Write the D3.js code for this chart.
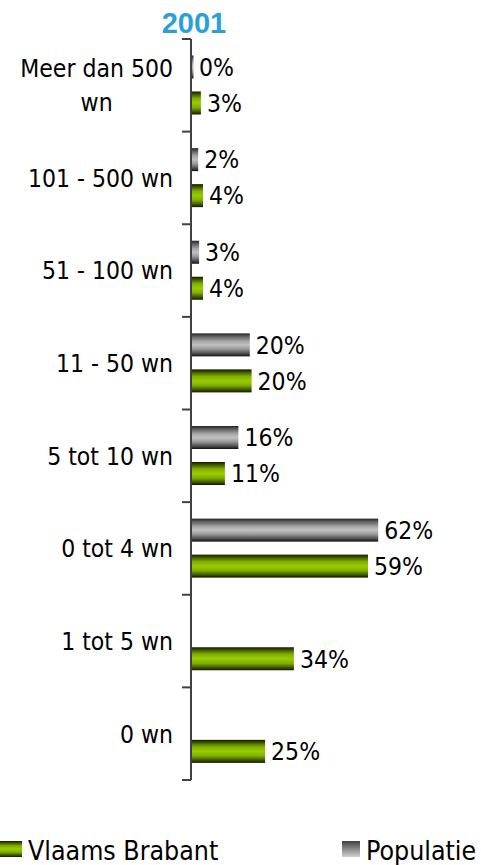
<!DOCTYPE html>
<meta charset="utf-8">
<style>
body { margin: 0; background: #fff; }
svg { display: block; }
.lbl { font-family: "DejaVu Sans Condensed", "DejaVu Sans", sans-serif; font-stretch: condensed; fill: #000; }
.axis path, .axis line { stroke: #404040; stroke-width: 2px; fill: none; }
</style>
<script src="https://d3js.org/d3.v7.min.js"></script>
<body>
<script>
// data, top to bottom
var categories = ["Meer dan 500 wn", "101 - 500 wn", "51 - 100 wn", "11 - 50 wn",
                  "5 tot 10 wn", "0 tot 4 wn", "1 tot 5 wn", "0 wn"];
var populatie = [0.4, 2.4, 2.7, 19.6, 15.8, 62.4, null, null];
var vlaamsBrabant = [3.3, 4.0, 4.0, 20.2, 11.3, 59.0, 34.3, 24.7];
var series = ["Populatie", "Vlaams Brabant"];

var W = 481, H = 865;
var svg = d3.select("body").append("svg").attr("width", W).attr("height", H);
var defs = svg.append("defs");

function grad(id, stops) {
  var g = defs.append("linearGradient").attr("id", id)
    .attr("x1", 0).attr("y1", 0).attr("x2", 0).attr("y2", 1);
  stops.forEach(function(s) {
    g.append("stop").attr("offset", s[0]).attr("stop-color", s[1]);
  });
}
grad("gGreen", [[0, "#121a00"], [0.12, "#3d5700"], [0.3, "#7fae00"], [0.5, "#99cc00"],
                [0.7, "#7fae00"], [0.88, "#3d5700"], [1, "#101600"]]);
grad("gGray", [[0, "#202020"], [0.12, "#5a5a5a"], [0.35, "#a8a8a8"], [0.5, "#c0c0c0"],
               [0.68, "#9a9a9a"], [0.88, "#4a4a4a"], [1, "#111"]]);
grad("gGrayLeg", [[0, "#404040"], [0.5, "#8a8a8a"], [1, "#d0d0d0"]]);
var fills = { "Populatie": "url(#gGray)", "Vlaams Brabant": "url(#gGreen)" };

var axisX = 191;
var x = d3.scaleLinear().domain([0, 100]).range([axisX, axisX + 300]);
var y = d3.scaleBand().domain(categories).range([39, 780]).padding(0);
var ySub = d3.scaleBand().domain(series).range([16.5, 75.5]).paddingInner(0.361).paddingOuter(0);

// title
svg.append("text").attr("x", 194).attr("y", 33).attr("text-anchor", "middle")
  .style("font", "bold 29px 'Liberation Sans', Arial, sans-serif").style("fill", "#2a9fd8")
  .text("2001");

// axis
var axis = svg.append("g").attr("class", "axis");
axis.append("line").attr("x1", axisX).attr("x2", axisX).attr("y1", y.range()[0]).attr("y2", y.range()[1]);
var tickYs = categories.map(function(c) { return y(c); }).concat([y.range()[1]]);
axis.selectAll(".tk").data(tickYs).enter().append("line")
  .attr("x1", axisX - 9).attr("x2", axisX).attr("y1", function(d) { return d; }).attr("y2", function(d) { return d; });

// bars
var rows = [];
categories.forEach(function(c, i) {
  if (populatie[i] != null) rows.push({ cat: c, s: "Populatie", v: populatie[i] });
  rows.push({ cat: c, s: "Vlaams Brabant", v: vlaamsBrabant[i] });
});

svg.selectAll(".bar").data(rows).enter().append("rect")
  .attr("x", axisX + 1)
  .attr("y", function(d) { return y(d.cat) + ySub(d.s); })
  .attr("width", function(d) { return Math.max(1.5, x(d.v) - axisX - 1); })
  .attr("height", ySub.bandwidth())
  .attr("fill", function(d) { return fills[d.s]; });

svg.selectAll(".val").data(rows).enter().append("text")
  .attr("class", "lbl")
  .attr("x", function(d) { return Math.max(x(d.v), axisX + 2) + 6; })
  .attr("y", function(d) { return y(d.cat) + ySub(d.s) + ySub.bandwidth() / 2; })
  .attr("dy", "0.36em")
  .style("font-size", "24.5px")
  .text(function(d) { return d3.format(".0f")(d.v) + "%"; });

// category labels, wrapped and right-aligned to the label area
var labelRight = 173, maxW = 160, lineH = 33.5;
categories.forEach(function(c) {
  var t = svg.append("text").attr("class", "lbl").style("font-size", "24.5px").attr("text-anchor", "middle");
  var words = c.split(" "), lines = [], cur = [];
  var probe = t.append("tspan");
  words.forEach(function(w) {
    var test = cur.concat([w]).join(" ");
    probe.text(test);
    if (probe.node().getComputedTextLength() > maxW && cur.length) {
      lines.push(cur.join(" "));
      cur = [w];
    } else cur.push(w);
  });
  lines.push(cur.join(" "));
  var widest = 0;
  lines.forEach(function(l) {
    probe.text(l);
    widest = Math.max(widest, probe.node().getComputedTextLength());
  });
  probe.remove();
  var cx = labelRight - widest / 2;
  var cy = y(c) + y.bandwidth() / 2 - (lines.length - 1) * lineH / 2;
  lines.forEach(function(l, i) {
    t.append("tspan").attr("x", cx).attr("y", cy + i * lineH).attr("dy", "0.36em").text(l);
  });
});

// legend
var legend = [
  { name: "Vlaams Brabant", fill: "url(#gGreen)", x: 0, w: 22 },
  { name: "Populatie", fill: "url(#gGrayLeg)", x: 342, w: 18 }
];
var lg = svg.selectAll(".leg").data(legend).enter().append("g");
lg.append("rect").attr("x", function(d) { return d.x; }).attr("y", 841)
  .attr("width", function(d) { return d.w; }).attr("height", 16)
  .attr("fill", function(d) { return d.fill; });
lg.append("text").attr("class", "lbl").style("font-size", "26.5px")
  .attr("x", function(d) { return d.x + d.w + 6; }).attr("y", 860)
  .text(function(d) { return d.name; });
</script>
